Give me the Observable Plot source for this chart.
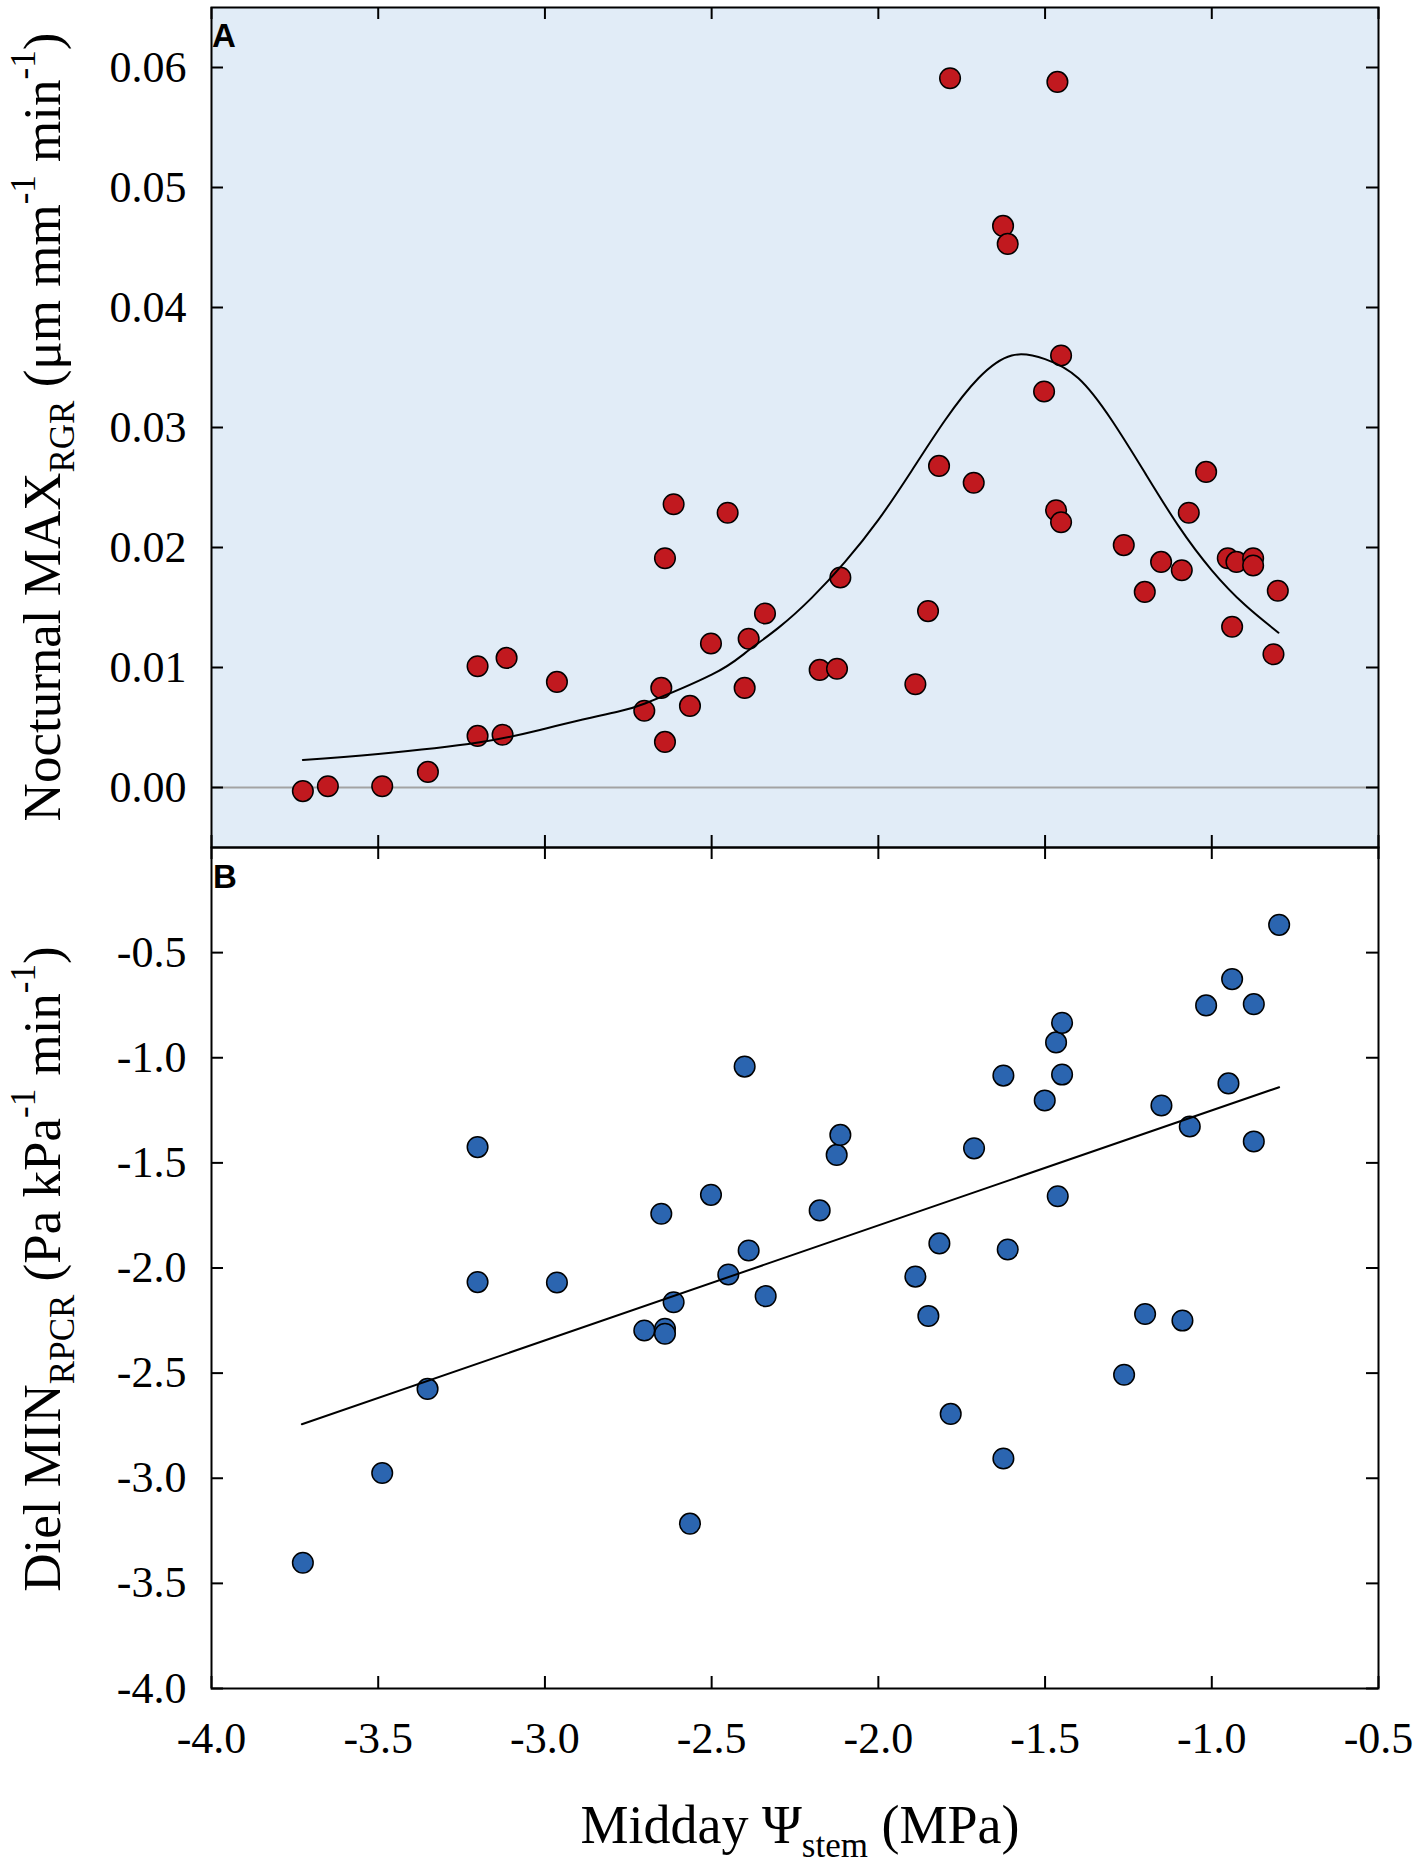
<!DOCTYPE html>
<html>
<head>
<meta charset="utf-8">
<script src="https://cdn.jsdelivr.net/npm/d3@7"></script>
<script src="https://cdn.jsdelivr.net/npm/@observablehq/plot@0.6"></script>
<style>
  body { margin: 0; background: #fff; }
  #wrap { position: relative; width: 1421px; height: 1867px; background: #fff; }
  #wrap svg { position: absolute; left: 0; }
</style>
</head>
<body>
<div id="wrap"></div>
<script>
// ---------- data ----------
const xTicks = [-4.0, -3.5, -3.0, -2.5, -2.0, -1.5, -1.0, -0.5];
const yTicksA = [0.00, 0.01, 0.02, 0.03, 0.04, 0.05, 0.06];
const yTicksB = [-0.5, -1.0, -1.5, -2.0, -2.5, -3.0, -3.5, -4.0];

// Panel A: Midday Psi_stem vs Nocturnal MAX_RGR
const psiA = [-3.726, -3.651, -3.488, -3.351, -3.202, -3.202, -3.127, -3.115, -2.964, -2.702,
  -2.651, -2.640, -2.640, -2.614, -2.565, -2.502, -2.452, -2.401, -2.389, -2.340,
  -2.176, -2.124, -2.114, -1.889, -1.851, -1.818, -1.785, -1.714, -1.626, -1.612,
  -1.503, -1.467, -1.463, -1.452, -1.452, -1.264, -1.201, -1.152, -1.090, -1.069,
  -1.017, -0.952, -0.939, -0.926, -0.876, -0.876, -0.815, -0.802];
const maxRGR = [-0.0003, 0.0001, 0.0001, 0.0013, 0.0043, 0.0101, 0.0044, 0.0108, 0.0088, 0.0064,
  0.0083, 0.0191, 0.0038, 0.0236, 0.0068, 0.0120, 0.0229, 0.0083, 0.0124, 0.0145,
  0.0098, 0.0099, 0.0175, 0.0086, 0.0147, 0.0268, 0.0591, 0.0254, 0.0468, 0.0453,
  0.0330, 0.0231, 0.0588, 0.0360, 0.0221, 0.0202, 0.0163, 0.0188, 0.0181, 0.0229,
  0.0263, 0.0191, 0.0134, 0.0188, 0.0191, 0.0185, 0.0111, 0.0164];

// fitted peak curve in panel A
const fitAx = [-3.726, -3.5, -3.2, -3.0, -2.8, -2.7, -2.5, -2.4, -2.3, -2.2,
  -2.1, -2.0, -1.9, -1.8, -1.7, -1.6, -1.5, -1.4, -1.3,
  -1.2, -1.1, -1.0, -0.9, -0.8];
const fitAy = [0.0023, 0.0028, 0.00375, 0.0049, 0.0062, 0.0070, 0.0094, 0.0112, 0.0133, 0.0158,
  0.0188, 0.0223, 0.0264, 0.0306, 0.0341, 0.0360, 0.0357, 0.0341, 0.0306,
  0.0262, 0.0218, 0.0181, 0.0152, 0.0129];

// Panel B: Midday Psi_stem vs Diel MIN_RPCR
const psiB = [-3.726, -3.488, -3.352, -3.202, -3.202, -2.964, -2.702, -2.651, -2.640, -2.640,
  -2.614, -2.565, -2.502, -2.450, -2.401, -2.389, -2.338, -2.176, -2.125, -2.114,
  -1.889, -1.850, -1.817, -1.783, -1.713, -1.625, -1.625, -1.612, -1.501, -1.467,
  -1.462, -1.449, -1.449, -1.263, -1.200, -1.151, -1.088, -1.066, -1.017, -0.950,
  -0.939, -0.874, -0.874, -0.798];
const minRPCR = [-3.402, -2.975, -2.575, -1.425, -2.067, -2.069, -2.297, -1.742, -2.289, -2.313,
  -2.163, -3.216, -1.652, -2.031, -1.042, -1.917, -2.134, -1.726, -1.462, -1.367,
  -2.041, -2.228, -1.883, -2.694, -1.431, -1.085, -2.906, -1.912, -1.203, -0.927,
  -1.659, -0.834, -1.080, -2.508, -2.219, -1.227, -2.250, -1.327, -0.751, -1.122,
  -0.626, -1.398, -0.745, -0.368];

// linear fit in panel B
const fitBx = [-3.729, -0.798];
const fitBy = [-2.743, -1.140];

// ---------- layout ----------
const W = 1421;
const mL = 211, mR = 43;
const plotW = W - mL - mR;
const hA = 847, mTA = 7;
const hB = 1020, mBB = 179;
const innerA = hA - mTA;
const innerB = hB - mBB;
const tick = 12;
const serif = "'Liberation Serif', 'Times New Roman', serif";
const sans = "'Liberation Sans', Arial, sans-serif";
const red = "#c1191f";
const blue = "#2b65b0";

const zip = (xs, ys) => xs.map((x, i) => ({x, y: ys[i]}));
const ptsA = zip(psiA, maxRGR);
const ptsB = zip(psiB, minRPCR);
const curveA = zip(fitAx, fitAy);
const lineB = zip(fitBx, fitBy);

function tickMarks(yTicks, inner) {
  return [
    Plot.tickX(xTicks, {x: d => d, insetTop: inner - tick, stroke: "#000", strokeWidth: 2}),
    Plot.tickX(xTicks, {x: d => d, insetBottom: inner - tick, stroke: "#000", strokeWidth: 2}),
    Plot.tickY(yTicks, {y: d => d, insetRight: plotW - tick, stroke: "#000", strokeWidth: 2}),
    Plot.tickY(yTicks, {y: d => d, insetLeft: plotW - tick, stroke: "#000", strokeWidth: 2})
  ];
}

const styleObj = {fontFamily: serif, fontSize: "44px", color: "#000", background: "transparent", overflow: "visible"};

const plotA = Plot.plot({
  width: W, height: hA,
  marginLeft: mL, marginRight: mR, marginTop: mTA, marginBottom: 0,
  x: {domain: [-4, -0.5], axis: null},
  y: {domain: [-0.005, 0.065], axis: null},
  style: styleObj,
  marks: [
    Plot.frame({fill: "#e1ecf7", stroke: "none"}),
    Plot.ruleY([0], {stroke: "#a3a3a3", strokeWidth: 2}),
    Plot.dot(ptsA, {x: "x", y: "y", r: 10.3, fill: red, stroke: "#000", strokeWidth: 1.5}),
    Plot.line(curveA, {x: "x", y: "y", curve: "natural", stroke: "#000", strokeWidth: 2}),
    ...tickMarks(yTicksA, innerA),
    Plot.axisY(yTicksA, {anchor: "left", tickSize: 0, tickPadding: 25, label: null,
      tickFormat: d => d.toFixed(2), fontSize: 44, fill: "#000"}),
    Plot.frame({stroke: "#000", strokeWidth: 2})
  ]
});

const plotB = Plot.plot({
  width: W, height: hB,
  marginLeft: mL, marginRight: mR, marginTop: 0, marginBottom: mBB,
  x: {domain: [-4, -0.5], axis: null},
  y: {domain: [-4, 0], axis: null},
  style: styleObj,
  marks: [
    Plot.dot(ptsB, {x: "x", y: "y", r: 10.3, fill: blue, stroke: "#000", strokeWidth: 1.5}),
    Plot.line(lineB, {x: "x", y: "y", stroke: "#000", strokeWidth: 2}),
    ...tickMarks(yTicksB, innerB),
    Plot.axisY(yTicksB, {anchor: "left", tickSize: 0, tickPadding: 25, label: null,
      tickFormat: d => d.toFixed(1), fontSize: 44, fill: "#000"}),
    Plot.axisX(xTicks, {anchor: "bottom", tickSize: 0, tickPadding: 33, label: null,
      tickFormat: d => d.toFixed(1), fontSize: 44, fill: "#000"}),
    Plot.frame({stroke: "#000", strokeWidth: 2})
  ]
});

const wrap = document.getElementById("wrap");
plotA.style.top = "0px";
plotB.style.top = hA + "px";
wrap.appendChild(plotA);
wrap.appendChild(plotB);

// ---------- titles with sub/superscripts ----------
function richText(svg, x, y, rotate, parts, size) {
  const t = d3.select(svg).append("text")
    .attr("transform", `translate(${x},${y})` + (rotate ? " rotate(-90)" : ""))
    .attr("text-anchor", "middle")
    .attr("font-family", serif)
    .attr("font-size", size)
    .attr("fill", "#000");
  let cur = 0;
  for (const [txt, kind] of parts) {
    const target = kind === "sub" ? 14 : kind === "sup" ? -25 : 0;
    const sp = t.append("tspan").attr("dy", target - cur).text(txt);
    if (kind) sp.attr("font-size", 35);
    cur = target;
  }
  return t;
}

richText(plotA, 60, 427, true, [
  ["Nocturnal MAX"], ["RGR", "sub"], [" (\u03bcm mm"], ["-1", "sup"], [" min"], ["-1", "sup"], [")"]
], 53);

richText(plotB, 60, 1269 - hA, true, [
  ["Diel MIN"], ["RPCR", "sub"], [" (Pa kPa"], ["-1", "sup"], [" min"], ["-1", "sup"], [")"]
], 53);

richText(plotB, 800, 1843 - hA, false, [
  ["Midday \u03a8"], ["stem", "sub"], [" (MPa)"]
], 54);

// panel letters
d3.select(plotA).append("text").attr("x", 224).attr("y", 47)
  .attr("font-family", sans).attr("font-weight", "bold").attr("font-size", 33).attr("fill", "#000").text("A");
d3.select(plotB).append("text").attr("x", 225).attr("y", 888 - hA)
  .attr("font-family", sans).attr("font-weight", "bold").attr("font-size", 33).attr("fill", "#000").text("B");
</script>
</body>
</html>
